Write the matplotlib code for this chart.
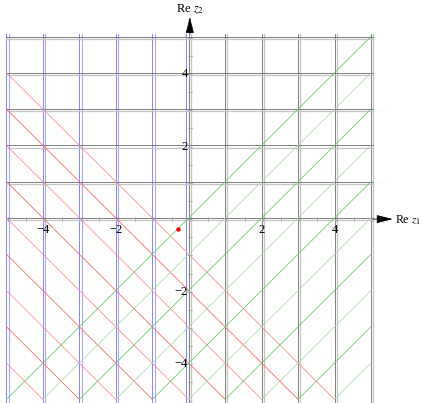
import numpy as np
import matplotlib.pyplot as plt

plt.rcParams['font.family'] = ['Liberation Serif', 'DejaVu Serif']
plt.rcParams['mathtext.fontset'] = 'stix'

# grid lines of the real plane
blue_x = [-5, -4, -3, -2, -1]
gray_x = [0, 1, 2, 3, 4, 5]
gray_y = [0, 1, 2, 3, 4, 5]
blue_near_zero = -0.08
# diagonals x + y = c (red) and y = x + c (green)
red_c = [-1, -2, -3, -4, -5, -6, -7, -8, -9]
green_c = [0, -1, -2, -3, -4, -5, -6, -7, -8, -9]
# marked point
dot_x, dot_y = -0.3, -0.3
xticks = [-4, -2, 2, 4]
yticks = [-4, -2, 2, 4]
lo, hi = -5, 5

fig = plt.figure(figsize=(4.22, 4.03), dpi=100)
ax = fig.add_axes([0, 0, 1, 1])
ax.set_xlim(-5.177, 6.400)
ax.set_ylim(-5.10, 6.006)
ax.axis('off')

off = 0.063   # the grid lines come doubled
top = hi + off
bot = -5.2

# vertical lines
for x in blue_x:
    ax.plot([x, x], [bot, top], color='#7070ff', lw=0.6)
    ax.plot([x + off, x + off], [bot, top], color='#a8a8ff', lw=0.8)
ax.plot([blue_near_zero] * 2, [bot, top], color='#7070ff', lw=0.6)
for x in gray_x:
    ax.plot([x, x], [bot, top], color='#6a6a6a', lw=0.6)
    ax.plot([x + off, x + off], [bot, top], color='#c4c4c4', lw=0.9)

# horizontal lines
for y in gray_y:
    ax.plot([lo, top], [y, y], color='#6a6a6a', lw=0.6)
    ax.plot([lo, top], [y - off, y - off], color='#c4c4c4', lw=0.9)

# red diagonals x + y = c
for i, c in enumerate(red_c):
    xs = np.array([max(lo, c - hi), min(hi, c - lo)])
    col = '#ff8c8c' if i % 2 == 0 else '#ff6060'
    ax.plot(xs, c - xs, color=col, lw=0.55)

# green diagonals y = x + c
for i, c in enumerate(green_c):
    xs = np.array([max(lo, lo - c), min(hi, hi - c)])
    col = '#66cc66' if i % 2 == 0 else '#a6dea6'
    ax.plot(xs, xs + c, color=col, lw=0.55)

# minor ticks on the axes
for t in np.arange(-5, 5.01, 0.5):
    ax.plot([t + off / 2] * 2, [-0.09, 0.03], color='#a0a0a0', lw=0.5)
    ax.plot([-0.03, 0.09], [t - off / 2] * 2, color='#a0a0a0', lw=0.5)

# axis arrows
ax.annotate('', xy=(5.60, -off / 2), xytext=(hi + off, -off / 2),
            arrowprops=dict(arrowstyle='-|>,head_length=1.0,head_width=0.25',
                            color='black', lw=0.6, shrinkA=0, shrinkB=0))
ax.annotate('', xy=(off / 2, 5.54), xytext=(off / 2, hi + off),
            arrowprops=dict(arrowstyle='-|>,head_length=1.0,head_width=0.25',
                            color='black', lw=0.6, shrinkA=0, shrinkB=0))
ax.text(5.67, -0.05, r'Re $z_1$', fontsize=8.6, ha='left', va='center')
ax.text(0.04, 5.76, r'Re $z_2$', fontsize=9, ha='center', va='center')

for t in xticks:
    ax.text(t, -0.16, '\u2212%d' % -t if t < 0 else str(t), fontsize=9,
            ha='center', va='top')
for t in yticks:
    ax.text(-0.02, t - off / 2, '\u2212%d' % -t if t < 0 else str(t), fontsize=9,
            ha='right', va='center')

ax.plot([dot_x], [dot_y], 'o', color='red', markersize=2.2)

fig.savefig('out.png', dpi=100)
